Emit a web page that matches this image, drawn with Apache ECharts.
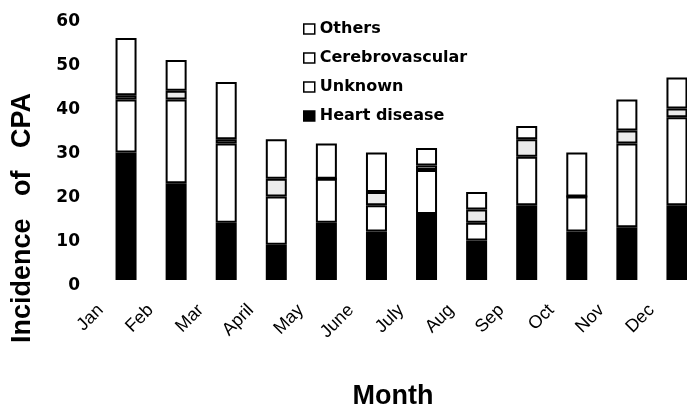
<!DOCTYPE html>
<html>
<head>
<meta charset="utf-8">
<script src="https://cdn.jsdelivr.net/npm/echarts@6/dist/echarts.min.js"></script>
<style>
html,body{margin:0;padding:0;background:#fff;}
#chart{width:687px;height:409px;}
</style>
</head>
<body>
<div id="chart"></div>
<script>
var months = ['Jan','Feb','Mar','April','May','June','July','Aug','Sep','Oct','Nov','Dec'];
var heartDisease = [29,22,13,8,13,11,15,9,17,11,12,17];
var unknown = [12,19,18,11,10,6,10,4,11,8,19,20];
var cerebrovascular = [1,2,1,4,0,3,1,3,4,0,3,2];
var others = [13,7,13,9,8,9,4,4,3,10,7,7];
var yTicks = [0,10,20,30,40,50,60];

var chart = echarts.init(document.getElementById('chart'), null, {renderer:'canvas'});

function barSeries(name, data, color) {
  return {
    name: name, type: 'bar', stack: 'cpa', data: data, barWidth: 21,
    itemStyle: {color: color, borderColor: '#000', borderWidth: 2},
    emphasis: {disabled: true}
  };
}

chart.setOption({
  animation: false,
  backgroundColor: '#fff',
  grid: {left: 101, width: 601, top: 16, height: 264, containLabel: false, outerBoundsMode: 'none'},
  legend: {
    orient: 'vertical', left: 303, top: 21, padding: 0,
    itemWidth: 11, itemHeight: 10, itemGap: 13,
    icon: 'rect',
    itemStyle: {borderColor: '#000', borderWidth: 1.5},
    textStyle: {fontFamily: 'DejaVu Sans', fontWeight: 'bold', fontSize: 16, lineHeight: 16, color: '#000'},
    data: [
      {name: 'Others', itemStyle: {color: '#fff'}},
      {name: 'Cerebrovascular', itemStyle: {color: '#fff'}},
      {name: 'Unknown', itemStyle: {color: '#fff'}},
      {name: 'Heart disease', itemStyle: {color: '#000'}}
    ],
    selectedMode: false
  },
  xAxis: {
    type: 'category', data: months,
    axisLine: {show: false}, axisTick: {show: false}, splitLine: {show: false},
    axisLabel: {
      interval: 0, rotate: 45, margin: 2, padding: [0, 36, 0, 0],
      fontFamily: 'Liberation Sans', fontSize: 18, color: '#000'
    }
  },
  yAxis: {
    type: 'value', min: yTicks[0], max: yTicks[yTicks.length-1], interval: 10,
    axisLine: {show: false}, axisTick: {show: false}, splitLine: {show: false},
    axisLabel: {
      margin: 21, formatter: '{a|{value}}',
      rich: {a: {padding: [12, 0, 0, 0], fontFamily: 'DejaVu Sans', fontWeight: 'bold', fontSize: 17, color: '#000'}},
      fontFamily: 'DejaVu Sans', fontWeight: 'bold', fontSize: 17, color: '#000'
    }
  },
  graphic: [
    {type: 'text', x: 23, y: 218, rotation: Math.PI/2,
     style: {text: 'Incidence   of   CPA', font: 'bold 27px "Liberation Sans", Arial', fill: '#000', align: 'center', verticalAlign: 'middle'}},
    {type: 'text', x: 393, y: 397,
     style: {text: 'Month', font: 'bold 27px "Liberation Sans", Arial', fill: '#000', align: 'center', verticalAlign: 'middle'}}
  ],
  series: [
    barSeries('Heart disease', heartDisease, '#000'),
    barSeries('Unknown', unknown, '#fff'),
    barSeries('Cerebrovascular', cerebrovascular, '#ebebeb'),
    barSeries('Others', others, '#fff')
  ]
});
</script>
</body>
</html>
